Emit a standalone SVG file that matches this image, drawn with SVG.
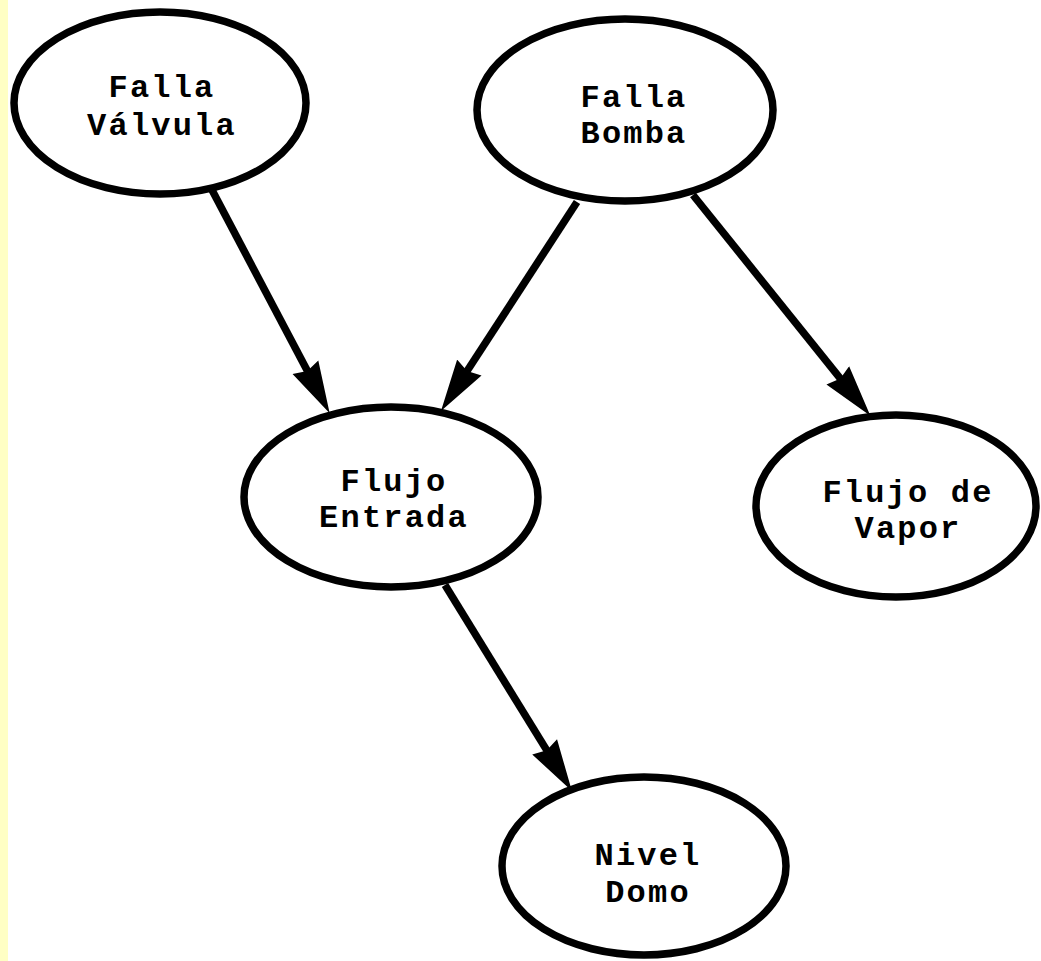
<svg xmlns="http://www.w3.org/2000/svg" width="1041" height="961" viewBox="0 0 1041 961">
<style>
.node{fill:#fff;stroke:#000;stroke-width:7.5}
.lbl{font-family:"Liberation Mono","Courier New",monospace;font-size:32px;font-weight:bold;letter-spacing:2.2px;text-anchor:middle;fill:#000}
.edge{stroke:#000;stroke-width:7.5;fill:none}
</style>
<defs>
<marker id="ah" markerUnits="userSpaceOnUse" markerWidth="52" markerHeight="30" viewBox="0 0 50 28" refX="8" refY="14" orient="auto">
<path d="M0,0 L50,14 L0,28 L4,14 z" fill="#000"/>
</marker>
</defs>
<rect x="0" y="0" width="1041" height="961" fill="#fff"/>
<rect x="0" y="0" width="8" height="961" fill="#ffffc4"/>
<g id="connectors">
<line class="edge" x1="212" y1="190" x2="309.3" y2="374.6" marker-end="url(#ah)"/>
<line class="edge" x1="577" y1="202" x2="464.8" y2="374.5" marker-end="url(#ah)"/>
<line class="edge" x1="693" y1="195" x2="843" y2="381.8" marker-end="url(#ah)"/>
<line class="edge" x1="445" y1="585" x2="549" y2="753.9" marker-end="url(#ah)"/>
</g>
<g id="falla-valvula">
<ellipse class="node" cx="160" cy="103" rx="146" ry="91"/>
<text class="lbl" x="162" y="97">Falla</text>
<text class="lbl" x="162" y="135">Válvula</text>
</g>
<g id="falla-bomba">
<ellipse class="node" cx="625" cy="110" rx="148" ry="91"/>
<text class="lbl" x="634" y="107">Falla</text>
<text class="lbl" x="634" y="143">Bomba</text>
</g>
<g id="flujo-entrada">
<ellipse class="node" cx="391" cy="497" rx="147" ry="90"/>
<text class="lbl" x="394" y="491">Flujo</text>
<text class="lbl" x="394" y="527">Entrada</text>
</g>
<g id="flujo-vapor">
<ellipse class="node" cx="896" cy="506" rx="140" ry="91"/>
<text class="lbl" x="908" y="502">Flujo de</text>
<text class="lbl" x="908" y="538">Vapor</text>
</g>
<g id="nivel-domo">
<ellipse class="node" cx="644" cy="866" rx="142" ry="89"/>
<text class="lbl" x="648" y="865">Nivel</text>
<text class="lbl" x="648" y="902">Domo</text>
</g>
</svg>
